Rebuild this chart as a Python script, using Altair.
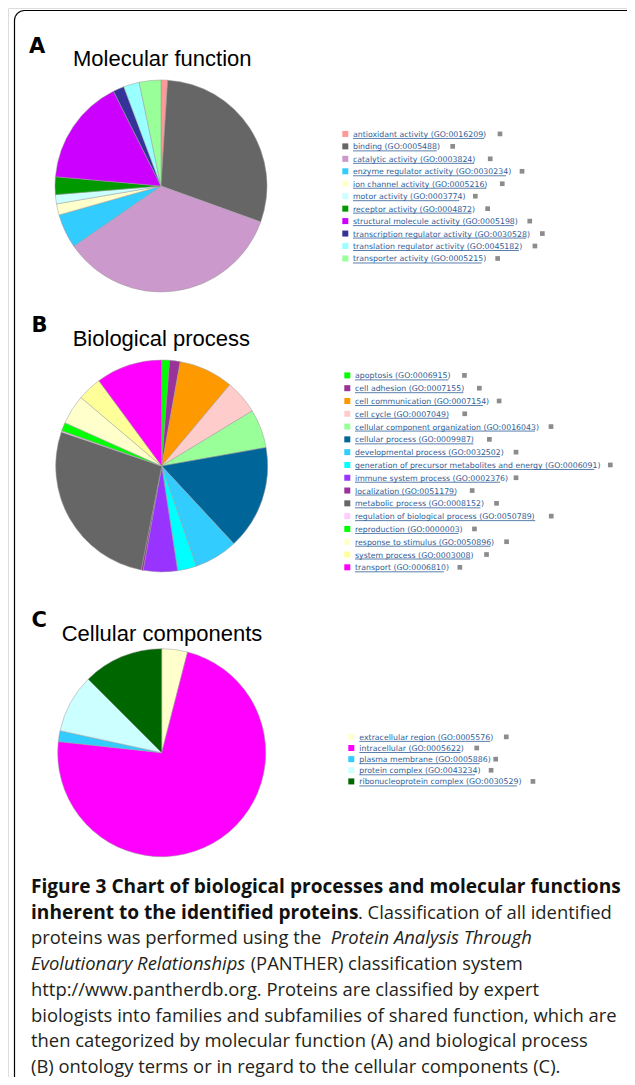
import altair as alt
import pandas as pd

# ---------------- data ----------------
mf_names = [
    "antioxidant activity (GO:0016209)", "binding (GO:0005488)",
    "catalytic activity (GO:0003824)", "enzyme regulator activity (GO:0030234)",
    "ion channel activity (GO:0005216)", "motor activity (GO:0003774)",
    "receptor activity (GO:0004872)", "structural molecule activity (GO:0005198)",
    "transcription regulator activity (GO:0030528)",
    "translation regulator activity (GO:0045182)", "transporter activity (GO:0005215)",
]
mf_values = [1.0, 29.5, 34.9, 5.2, 1.7, 1.4, 2.7, 16.2, 1.7, 2.4, 3.3]
mf_colors = ["#FF9999", "#666666", "#CC99CC", "#33CCFF", "#FFFFCC", "#CCFFFF",
             "#009900", "#CC00FF", "#333399", "#99FFFF", "#99FF99"]

bp_names = [
    "apoptosis (GO:0006915)", "cell adhesion (GO:0007155)",
    "cell communication (GO:0007154)", "cell cycle (GO:0007049)",
    "cellular component organization (GO:0016043)", "cellular process (GO:0009987)",
    "developmental process (GO:0032502)",
    "generation of precursor metabolites and energy (GO:0006091)",
    "immune system process (GO:0002376)", "localization (GO:0051179)",
    "metabolic process (GO:0008152)", "regulation of biological process (GO:0050789)",
    "reproduction (GO:0000003)", "response to stimulus (GO:0050896)",
    "system process (GO:0003008)", "transport (GO:0006810)",
]
bp_values = [1.2, 1.6, 8.3, 5.2, 5.9, 15.9, 6.6, 2.9, 5.2, 0.3, 27.1, 0.2, 1.3, 4.5, 3.7, 10.1]
bp_colors = ["#00FF00", "#993399", "#FF9900", "#FFCCCC", "#99FF99", "#006699",
             "#33CCFF", "#00FFFF", "#9933FF", "#993399", "#666666", "#FFCCFF",
             "#00FF00", "#FFFFCC", "#FFFF99", "#FF00FF"]

cc_names = [
    "extracellular region (GO:0005576)", "intracellular (GO:0005622)",
    "plasma membrane (GO:0005886)", "protein complex (GO:0043234)",
    "ribonucleoprotein complex (GO:0030529)",
]
cc_values = [4.0, 72.7, 1.7, 9.1, 12.5]
cc_colors = ["#FFFFCC", "#FF00FF", "#33CCFF", "#CCFFFF", "#006600"]

panel_letters = ["A", "B", "C"]
panel_titles = ["Molecular function", "Biological process", "Cellular components"]

caption_l1 = "Figure 3 Chart of biological processes and molecular functions"
caption_l2_bold = "inherent to the identified proteins"
caption_l2_reg = ". Classification of all identified"
caption_l3_reg = "proteins was performed using the"
caption_l3_it = "Protein Analysis Through"
caption_l4_it = "Evolutionary Relationships"
caption_l4_reg = "(PANTHER) classification system"
caption_rest = [
    "http://www.pantherdb.org. Proteins are classified by expert",
    "biologists into families and subfamilies of shared function, which are",
    "then categorized by molecular function (A) and biological process",
    "(B) ontology terms or in regard to the cellular components (C).",
]

LINK = "#2f5d96"
LFONT = 7.8


def panel(names, values, colors, cx, cy, r, y0, y1, sw_x, tx_x):
    df = pd.DataFrame({"name": names, "value": values, "idx": list(range(len(names)))})
    base = alt.Chart(df)
    cscale = alt.Scale(domain=names, range=colors)
    pie = base.mark_arc(outerRadius=r, stroke="#9a9a9a", strokeWidth=0.5).encode(
        theta=alt.Theta("value:Q", stack=True),
        color=alt.Color("name:N", scale=cscale, legend=None),
        order=alt.Order("idx:Q"),
        x=alt.value(cx),
        y=alt.value(cy),
    )
    yenc = alt.Y("name:N", sort=names, scale=alt.Scale(range=[y0, y1], padding=0), axis=None)
    swatch = base.mark_square(size=36, opacity=1).encode(
        x=alt.value(sw_x), y=yenc,
        color=alt.Color("name:N", scale=cscale, legend=None),
    )
    text = base.mark_text(align="left", baseline="alphabetic", dy=3, font="DejaVu Sans",
                          fontSize=LFONT, color=LINK).encode(
        x=alt.value(tx_x), y=yenc, text="name:N")
    calc = base.transform_calculate(
        narrow="length(replace(datum.name, regexp('[^iltfrj():. ]', 'g'), ''))"
    ).transform_calculate(
        w=f"{LFONT}*(0.625*(length(datum.name)-datum.narrow)+0.33*datum.narrow)"
    ).transform_calculate(
        u0=f"{tx_x}", u1=f"{tx_x}+datum.w", ic=f"{tx_x}+datum.w+16"
    )
    underline = calc.mark_rule(color=LINK, strokeWidth=0.8, yOffset=4.5).encode(
        x=alt.X("u0:Q", scale=None), x2="u1:Q", y=yenc)
    icon = calc.mark_square(size=22, color="#8c8c8c", opacity=1).encode(
        x=alt.X("ic:Q", scale=None), y=yenc)
    return alt.layer(pie, swatch, text, underline, icon)


def label(t, x, y, **kw):
    return alt.Chart(pd.DataFrame({"t": [t]})).mark_text(
        align="left", baseline="alphabetic", **kw
    ).encode(x=alt.value(x), y=alt.value(y), text="t:N")


frame = alt.Chart(pd.DataFrame({"k": [0]})).mark_rect(
    filled=False, stroke="black", strokeWidth=1.2, cornerRadius=10, clip=True
).encode(x=alt.value(6.5), x2=alt.value(900), y=alt.value(2.5), y2=alt.value(1400))

pA = panel(mf_names, mf_values, mf_colors, 153, 178, 106, 119.7, 256.7, 337.3, 345)
pB = panel(bp_names, bp_values, bp_colors, 153.7, 458, 106, 361, 565.7, 339.3, 347)
pC = panel(cc_names, cc_values, cc_colors, 153.7, 744.7, 104, 723.3, 779, 343.3, 351.3)

LET = dict(font="DejaVu Sans", fontSize=21, fontWeight="bold", color="black")
TIT = dict(font="Liberation Sans", fontSize=22, color="black")
titles = [
    label(panel_letters[0], 21, 45, **LET), label(panel_titles[0], 65, 58, **TIT),
    label(panel_letters[1], 23.5, 324.3, **LET), label(panel_titles[1], 64.7, 337.7, **TIT),
    label(panel_letters[2], 23.5, 618.7, **LET), label(panel_titles[2], 53.7, 632.7, **TIT),
]

CF = "Open Sans"
BOLD = dict(font=CF, fontSize=19.1, fontWeight="bold", color="#111111")
REG = dict(font=CF, fontSize=18.4, color="#231f20")
ITA = dict(font=CF, fontSize=18.4, fontStyle="italic", color="#231f20")
cx0 = 23
LS = 25.7
b0 = 885
caps = [
    label(caption_l1, cx0, b0, **BOLD),
    label(caption_l2_bold, cx0, b0 + LS, **BOLD),
    label(caption_l2_reg, 350, b0 + LS, **REG),
    label(caption_l3_reg, cx0, b0 + 2 * LS, **REG),
    label(caption_l3_it, 322.7, b0 + 2 * LS, **ITA),
    label(caption_l4_it, cx0, b0 + 3 * LS, **ITA),
    label(caption_l4_reg, 242.7, b0 + 3 * LS, **REG),
]
for i, line in enumerate(caption_rest):
    caps.append(label(line, cx0, b0 + (4 + i) * LS, **REG))

chart = alt.layer(frame, pA, pB, pC, *titles, *caps).resolve_scale(
    y="independent", theta="independent", color="independent"
).properties(
    width=619, height=1069, padding=0,
    autosize=alt.AutoSizeParams(type="none"),
).configure_view(stroke=None).configure(background="white")

chart.save("out.html", embed_options={"renderer": "svg", "actions": False})
